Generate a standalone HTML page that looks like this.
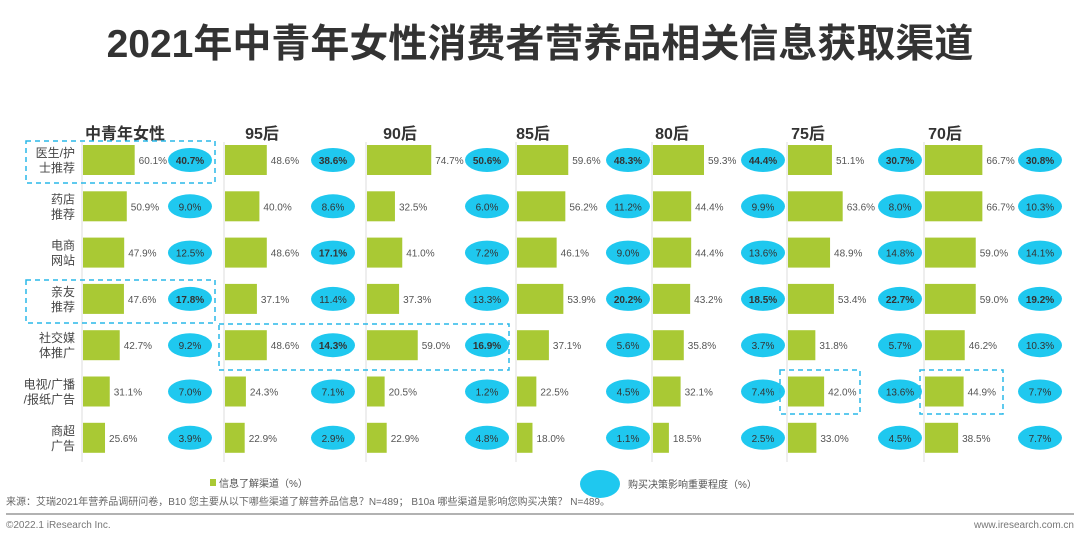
<!DOCTYPE html>
<html><head><meta charset="utf-8"><style>
body{margin:0;background:#fff;width:1080px;height:539px;overflow:hidden;font-family:"Liberation Sans","Noto Sans CJK SC",sans-serif}
svg text{font-family:"Liberation Sans","Noto Sans CJK SC",sans-serif}
</style></head><body>
<svg id="c" width="1080" height="539">
<text x="540" y="57" text-anchor="middle" font-size="39" font-weight="bold" fill="#333">2021年中青年女性消费者营养品相关信息获取渠道</text>
<g id="g"></g>
<rect x="210" y="479" width="6" height="7" fill="#a9c934"/>
<text x="219" y="487" font-size="10" fill="#555">信息了解渠道（%）</text>
<ellipse cx="600" cy="484" rx="20" ry="14" fill="#1fc8ef"/>
<text x="628" y="488" font-size="10" fill="#555">购买决策影响重要程度（%）</text>
<text x="6" y="505" font-size="10" fill="#666">来源：艾瑞2021年营养品调研问卷，B10 您主要从以下哪些渠道了解营养品信息？N=489； B10a 哪些渠道是影响您购买决策？ N=489。</text>
<line x1="6" y1="514" x2="1074" y2="514" stroke="#999" stroke-width="1.5"/>
<text x="6" y="528" font-size="10" fill="#777">©2022.1 iResearch Inc.</text>
<text x="1074" y="528" text-anchor="end" font-size="10" fill="#777">www.iresearch.com.cn</text>
</svg>
<script>
const groups=["中青年女性","95后","90后","85后","80后","75后","70后"];
const channels=["医生/护|士推荐","药店|推荐","电商|网站","亲友|推荐","社交媒|体推广","电视/广播|/报纸广告","商超|广告"];
const infoValues=[
[60.1,50.9,47.9,47.6,42.7,31.1,25.6],
[48.6,40.0,48.6,37.1,48.6,24.3,22.9],
[74.7,32.5,41.0,37.3,59.0,20.5,22.9],
[59.6,56.2,46.1,53.9,37.1,22.5,18.0],
[59.3,44.4,44.4,43.2,35.8,32.1,18.5],
[51.1,63.6,48.9,53.4,31.8,42.0,33.0],
[66.7,66.7,59.0,59.0,46.2,44.9,38.5]];
const decisionValues=[
[40.7,9.0,12.5,17.8,9.2,7.0,3.9],
[38.6,8.6,17.1,11.4,14.3,7.1,2.9],
[50.6,6.0,7.2,13.3,16.9,1.2,4.8],
[48.3,11.2,9.0,20.2,5.6,4.5,1.1],
[44.4,9.9,13.6,18.5,3.7,7.4,2.5],
[30.7,8.0,14.8,22.7,5.7,13.6,4.5],
[30.8,10.3,14.1,19.2,10.3,7.7,7.7]];
const boldFlags=[[1,0,0,1,0,0,0],[1,0,1,0,1,0,0],[1,0,0,0,1,0,0],[1,0,0,1,0,0,0],[1,0,0,1,0,0,0],[1,0,0,1,0,0,0],[1,0,0,1,0,0,0]];
const gx=[82,224,366,516,652,787,924], ex=[190,333,487,628,763,900,1040], hx=[125,262,400,533,672,808,945];
const NS="http://www.w3.org/2000/svg",g=document.getElementById('g');
function mk(t,a,p){const e=document.createElementNS(NS,t);for(const k in a)e.setAttribute(k,a[k]);(p||g).appendChild(e);return e;}
const xs=v=>v*0.86, ys=i=>160+i*46.3;
groups.forEach((name,j)=>{
 let t=mk('text',{x:hx[j],y:139,'text-anchor':'middle','font-size':16,'font-weight':'bold',fill:'#333'});t.textContent=name;
 
 
 let l=mk('line',{x1:gx[j],y1:142,x2:gx[j],y2:462,stroke:'#ddd'});
 
 
 channels.forEach((c,i)=>{
  const y=ys(i),v=infoValues[j][i],d=decisionValues[j][i];
  let r=mk('rect',{x:gx[j]+1,y:y-15,width:xs(v),height:30,fill:'#a9c934'});
  
  
  let tv=mk('text',{x:gx[j]+xs(v)+5,y:y+4,'font-size':10,fill:'#555'});tv.textContent=v.toFixed(1)+'%';
  
  
  let e=mk('ellipse',{cx:ex[j],cy:y,rx:22,ry:12,fill:'#1fc8ef'});
  
  
  let te=mk('text',{x:ex[j],y:y+4,'text-anchor':'middle','font-size':10,fill:'#333','font-weight':boldFlags[j][i]?'bold':'normal'});te.textContent=d.toFixed(1)+'%';
  
  
 });
});
channels.forEach((c,i)=>{const p=c.split('|');p.forEach((s,k)=>{let t=mk('text',{x:75,y:ys(i)-3+k*15,'text-anchor':'end','font-size':12,fill:'#444'});t.textContent=s;
 
 });});
[[26,141,189,42],[26,280,189,43],[219,324,290,46],[780,370,80,44],[920,370,83,44]].forEach(b=>{let r=mk('rect',{x:b[0],y:b[1],width:b[2],height:b[3],fill:'none',stroke:'#2ab8e8','stroke-width':1.5,'stroke-dasharray':'5,4'});
 
 });
</script>
</body></html>
